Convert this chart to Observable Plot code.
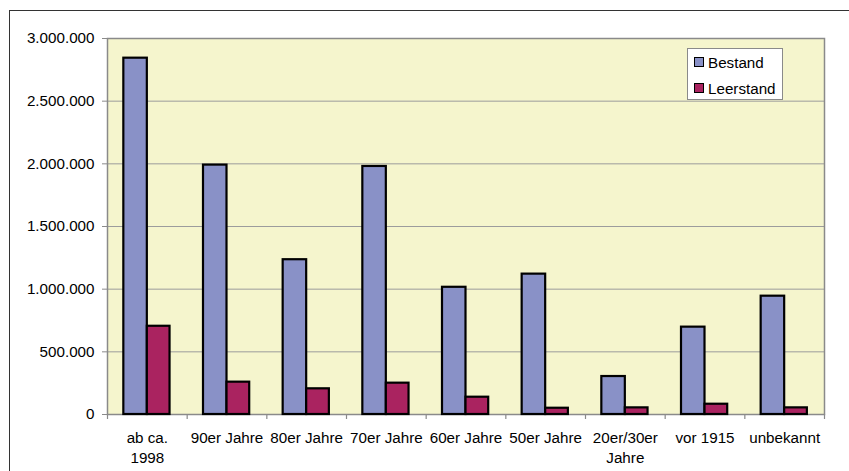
<!DOCTYPE html>
<html>
<head>
<meta charset="utf-8">
<script src="https://cdn.jsdelivr.net/npm/d3@7"></script>
<script src="https://cdn.jsdelivr.net/npm/@observablehq/plot@0.6"></script>
<style>
  html, body { margin: 0; padding: 0; background: #fff; overflow: hidden; }
  #wrap { position: relative; width: 849px; height: 471px; font-family: "Liberation Sans", Arial, sans-serif; }
  #border { position: absolute; left: 9px; top: 10px; width: 900px; height: 500px;
            border-left: 1.5px solid #333; border-top: 1.5px solid #333; pointer-events: none; }
  #legend { position: absolute; left: 687px; top: 48px; width: 94px; height: 50px;
            background: #fff; border: 1px solid #8a8a8a; font-size: 15.2px; color: #000; }
  .row { position: absolute; left: 6px; height: 16px; display: flex; align-items: center; }
  .sw { width: 8px; height: 8px; border: 1.5px solid #000; margin-right: 4px; }
</style>
</head>
<body>
<div id="wrap">
  <div id="chart"></div>
  <div id="border"></div>
  <div id="legend"></div>
</div>
<script>
// Building age classes (x axis)
const categories = [
  "ab ca.\n1998", "90er Jahre", "80er Jahre", "70er Jahre", "60er Jahre",
  "50er Jahre", "20er/30er\nJahre", "vor 1915", "unbekannt"
];
// Stock of dwellings per age class
const bestand = [2843000, 1990000, 1235000, 1979000, 1015000, 1120000, 303000, 697000, 944000];
// Vacant dwellings per age class
const leerstand = [704000, 258000, 205000, 250000, 138000, 50000, 53000, 82000, 53000];
const seriesNames = ["Bestand", "Leerstand"];
const seriesColors = ["#8991C7", "#AA2360"];
const yTicks = [0, 500000, 1000000, 1500000, 2000000, 2500000, 3000000];

const rows = [];
categories.forEach((c, i) => {
  rows.push({category: c, series: seriesNames[0], value: bestand[i]});
  rows.push({category: c, series: seriesNames[1], value: leerstand[i]});
});

const de = d3.formatLocale({decimal: ",", thousands: ".", grouping: [3], currency: ["", " €"]});
const fmt = de.format(",d");

const W = 849, H = 471, ML = 107, MR = 25, MT = 38, MB = 57;
const bw = (W - ML - MR) / categories.length;
const grid = "#9c9c9c", axisGray = "#8a8a8a";

const chart = Plot.plot({
  width: W, height: H,
  marginLeft: ML, marginRight: MR, marginTop: MT, marginBottom: MB,
  style: {fontFamily: "'Liberation Sans', Arial, sans-serif", fontSize: "15.2px", color: "#000", background: "transparent"},
  x: {type: "band", domain: categories, padding: 0, round: false, label: null},
  y: {domain: [0, 3000000], label: null},
  marks: [
    Plot.frame({fill: "#F5F5CD", stroke: null}),
    Plot.ruleY(yTicks.slice(1), {stroke: grid, strokeWidth: 1}),
    Plot.frame({stroke: axisGray, strokeWidth: 1.5}),
    Plot.axisY({ticks: yTicks, tickFormat: fmt, tickSize: 5, tickPadding: 8, stroke: axisGray, label: null}),
    Plot.axisX({tickSize: 0, tickPadding: 14.5, lineHeight: 1.32, label: null}),
    // tick marks on the category boundaries
    Plot.ruleX(categories, {x: d => d, dx: -bw / 2, y1: 0, y2: 0, insetBottom: -5, stroke: axisGray, strokeWidth: 1.2}),
    Plot.ruleX([categories[categories.length - 1]], {x: d => d, dx: bw / 2, y1: 0, y2: 0, insetBottom: -5, stroke: axisGray, strokeWidth: 1.2}),
    Plot.barY(rows.filter(d => d.series === seriesNames[0]), {
      x: "category", y: "value", fill: seriesColors[0], stroke: "#000", strokeWidth: 2.2,
      insetLeft: bw * 0.205, insetRight: bw * 0.5
    }),
    Plot.barY(rows.filter(d => d.series === seriesNames[1]), {
      x: "category", y: "value", fill: seriesColors[1], stroke: "#000", strokeWidth: 2.2,
      insetLeft: bw * 0.5, insetRight: bw * 0.215
    })
  ]
});
document.getElementById("chart").appendChild(chart);

// Legend
const legend = document.getElementById("legend");
seriesNames.forEach((name, i) => {
  const r = document.createElement("div");
  r.className = "row";
  r.style.top = (i === 0 ? 5 : 31) + "px";
  const sw = document.createElement("span");
  sw.className = "sw";
  sw.style.background = seriesColors[i];
  const t = document.createElement("span");
  t.textContent = name;
  r.appendChild(sw);
  r.appendChild(t);
  legend.appendChild(r);
});
</script>
</body>
</html>
